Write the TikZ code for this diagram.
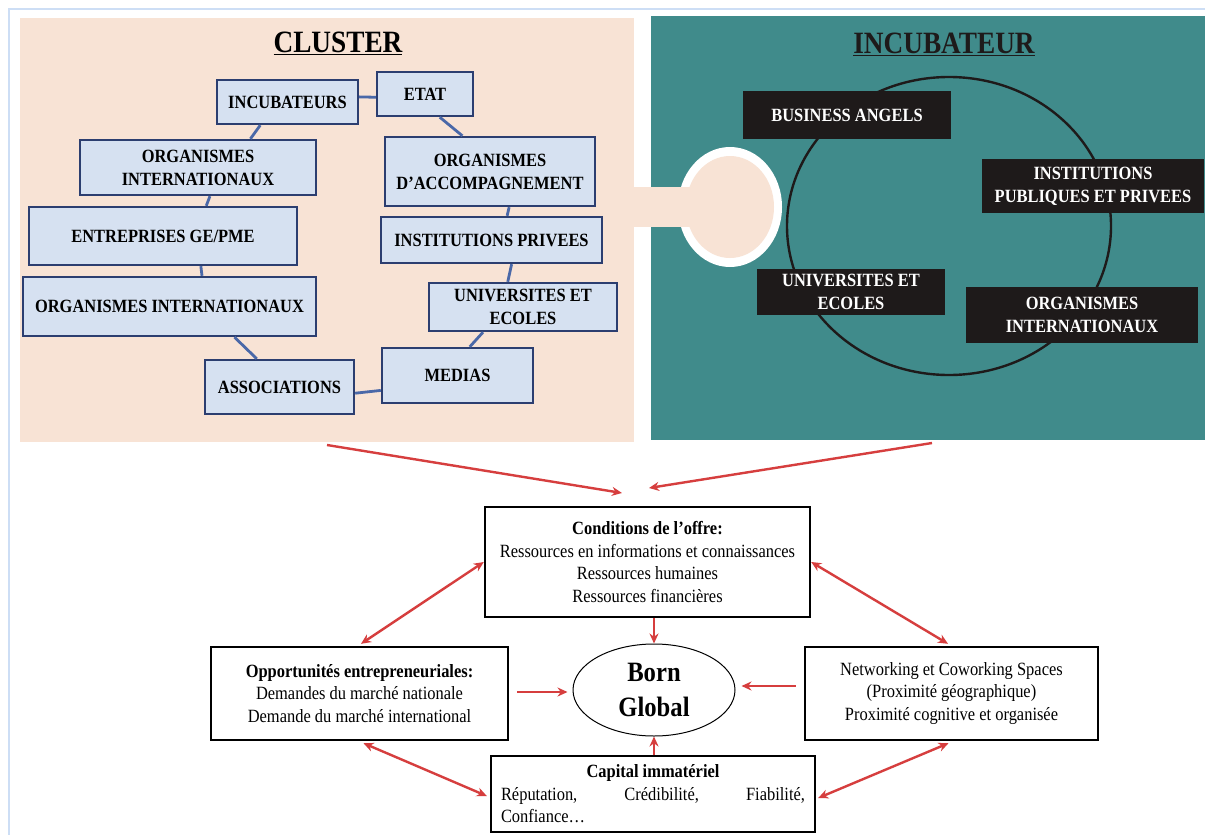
\documentclass[tikz,border=0pt]{standalone}
\usepackage{fontspec}
\setmainfont[FakeStretch=0.88]{Liberation Serif}
\usetikzlibrary{arrows.meta,calc,shapes.geometric}
\definecolor{peach}{RGB}{248,227,213}
\definecolor{teal1}{RGB}{64,139,139}
\definecolor{cfill}{RGB}{214,225,241}
\definecolor{cborder}{RGB}{44,62,112}
\definecolor{clink}{RGB}{74,104,168}
\definecolor{ink}{RGB}{30,26,26}
\definecolor{ared}{RGB}{214,62,62}
\definecolor{frame}{RGB}{205,222,245}
\tikzset{
  panel/.style={inner sep=0pt, outer sep=0pt},
  cbox/.style={draw=cborder, line width=2.4pt, fill=cfill, align=center, inner sep=0pt,
     font=\bfseries\fontsize{18.7}{23}\selectfont},
  ibox/.style={fill=ink, text=white, align=center, inner sep=0pt,
     font=\bfseries\fontsize{18.7}{23}\selectfont},
  wbox/.style={draw=black, line width=2.4pt, fill=white, align=center, inner sep=0pt,
     font=\fontsize{18.7}{22.5}\selectfont},
  clinkline/.style={draw=clink, line width=2.8pt},
  rarrow/.style={draw=ared, line width=2.4pt, -{Stealth[length=10pt,width=9pt]}},
  darrow/.style={draw=ared, line width=2.4pt, {Stealth[length=10pt,width=9pt]}-{Stealth[length=10pt,width=9pt]}},
  ptitle/.style={font=\bfseries\fontsize{31}{32}\selectfont, anchor=base, inner sep=0pt}
}
\begin{document}
\begin{tikzpicture}[x=1pt,y=-1pt]
\useasboundingbox (0,0) rectangle (1205,835);
\fill[white] (0,0) rectangle (1205,835);
% frame
\draw[frame, line width=2pt] (9,835) -- (9,8.5) -- (1205,8.5);
% panels
\node[panel, fill=peach, minimum width=614, minimum height=424] (cluster) at (327,230) {};
\node[panel, fill=teal1, minimum width=556, minimum height=424] (incub) at (929,228) {};
\node[ptitle] (tcl) at (338,52) {\underline{CLUSTER}};
\node[ptitle, text=ink] (tinc) at (944,53) {\underline{INCUBATEUR}};
% key connector
\node[ellipse, fill=white, minimum width=104, minimum height=120, inner sep=0pt] (ring) at (730,207) {};
\node[ellipse, fill=peach, minimum width=88, minimum height=102, inner sep=0pt] (hole) at (730,207) {};
\fill[peach] (cluster.east |- 0,187) rectangle (hole.center |- 0,227);
% big circle
\node[ellipse, draw=ink, line width=2.4pt, minimum width=324, minimum height=298, inner sep=0pt] (ring2) at (949,226) {};
% incubator boxes
\node[ibox, minimum width=208, minimum height=48] (ba) at (847,115) {BUSINESS ANGELS};
\node[ibox, minimum width=222, minimum height=54] (ipp) at (1093,186) {INSTITUTIONS\\PUBLIQUES ET PRIVEES};
\node[ibox, minimum width=188, minimum height=46] (ue) at (851,292) {UNIVERSITES ET\\ECOLES};
\node[ibox, minimum width=232, minimum height=56] (oi) at (1082,315) {ORGANISMES\\INTERNATIONAUX};
% cluster boxes
\node[cbox, minimum width=141, minimum height=44] (inc) at (287.5,102) {INCUBATEURS};
\node[cbox, minimum width=96, minimum height=44] (etat) at (425,94) {ETAT};
\node[cbox, minimum width=236, minimum height=55] (orgint) at (198,167.5) {ORGANISMES\\INTERNATIONAUX};
\node[cbox, minimum width=210, minimum height=69] (orgacc) at (490,171.5) {ORGANISMES\\D’ACCOMPAGNEMENT};
\node[cbox, minimum width=268, minimum height=58] (entr) at (163,236) {ENTREPRISES GE/PME};
\node[cbox, minimum width=221, minimum height=46] (instpriv) at (491.5,240) {INSTITUTIONS PRIVEES};
\node[cbox, minimum width=293, minimum height=59] (orgint1) at (169.5,306.5) {ORGANISMES INTERNATIONAUX};
\node[cbox, minimum width=188, minimum height=48] (univ) at (523,307) {UNIVERSITES ET\\ECOLES};
\node[cbox, minimum width=149, minimum height=54] (assoc) at (279.5,387) {ASSOCIATIONS};
\node[cbox, minimum width=151, minimum height=55] (medias) at (457.5,375.5) {MEDIAS};
% cluster links
\draw[clinkline] ($(inc.north east)!0.39!(inc.south east)$) -- ($(etat.north west)!0.57!(etat.south west)$);
\draw[clinkline] ($(etat.south west)!0.65!(etat.south east)$) -- ($(orgacc.north west)!0.37!(orgacc.north east)$);
\draw[clinkline] ($(inc.south west)!0.31!(inc.south east)$) -- ($(orgint.north west)!0.72!(orgint.north east)$);
\draw[clinkline] ($(orgint.south west)!0.55!(orgint.south east)$) -- ($(entr.north west)!0.66!(entr.north east)$);
\draw[clinkline] ($(entr.south west)!0.64!(entr.south east)$) -- ($(orgint1.north west)!0.61!(orgint1.north east)$);
\draw[clinkline] ($(orgint1.south west)!0.72!(orgint1.south east)$) -- ($(assoc.north west)!0.35!(assoc.north east)$);
\draw[clinkline] ($(assoc.north east)!0.61!(assoc.south east)$) -- ($(medias.north west)!0.76!(medias.south west)$);
\draw[clinkline] ($(medias.north west)!0.58!(medias.north east)$) -- ($(univ.south west)!0.29!(univ.south east)$);
\draw[clinkline] ($(univ.north west)!0.42!(univ.north east)$) -- ($(instpriv.south west)!0.59!(instpriv.south east)$);
\draw[clinkline] ($(instpriv.north west)!0.57!(instpriv.north east)$) -- ($(orgacc.south west)!0.59!(orgacc.south east)$);
% bottom diagram
\node[wbox, minimum width=325, minimum height=110] (cond) at (647.5,562)
  {\textbf{Conditions de l’offre:}\\Ressources en informations et connaissances\\Ressources humaines\\Ressources financières};
\node[wbox, minimum width=297, minimum height=93] (opp) at (359.5,693.5)
  {\textbf{Opportunités entrepreneuriales:}\\Demandes du marché nationale\\Demande du marché international};
\node[ellipse, draw=black, line width=1pt, fill=white, minimum width=162, minimum height=92, inner sep=0pt,
  align=center, font=\bfseries\fontsize{28}{35}\selectfont] (born) at (654,690) {Born\\Global};
\node[wbox, minimum width=293, minimum height=93] (net) at (951.5,693.5)
  {Networking et Coworking Spaces\\(Proximité géographique)\\Proximité cognitive et organisée};
\node[wbox, minimum width=324, minimum height=76] (cap) at (653,794)
  {\textbf{Capital immatériel}\\\hbox to 304pt{Réputation,\hfill Crédibilité,\hfill Fiabilité,}\\\hbox to 304pt{Confiance…\hfill}};
% arrows
\coordinate (t1) at (622,493);
\coordinate (t2) at (649,488);
\draw[rarrow] ($(cluster.south)+(0,3)$) -- (t1);
\draw[rarrow] ($(incub.south)+(3,3)$) -- (t2);
\draw[darrow] (cond.west) -- ($(opp.north)+(1.5,-2)$);
\draw[darrow] (cond.east) -- ($(net.north)+(-3.5,-2)$);
\draw[rarrow] (cond.south -| born.north) -- (born.north);
\draw[rarrow, shorten <=8pt, shorten >=5pt] (opp.east |- 0,692) -- (born.west |- 0,692);
\draw[rarrow, shorten <=8pt, shorten >=6pt] (net.west |- 0,686) -- (born.east |- 0,686);
\draw[rarrow] (cap.north -| born.south) -- (born.south);
\draw[darrow] ($(opp.south)+(4,2)$) -- ($(cap.west)+(-3,2)$);
\draw[darrow] ($(net.south)+(-3,2)$) -- ($(cap.east)+(2,4)$);
\end{tikzpicture}
\end{document}
